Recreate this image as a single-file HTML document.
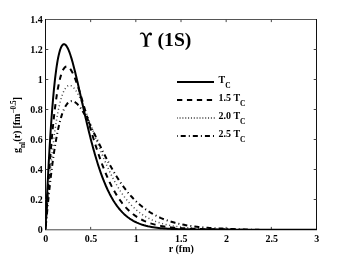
<!DOCTYPE html>
<html><head><meta charset="utf-8"><style>
html,body{margin:0;padding:0;background:#fff;}
svg{display:block;filter:grayscale(1);font-family:"Liberation Serif",serif;font-weight:bold;font-size:10px;fill:#000;}
</style></head><body>
<svg width="349" height="259" viewBox="0 0 349 259">
<rect width="349" height="259" fill="#fff"/>
<path d="M45 19.5H317" fill="none" stroke="#555"/><path d="M45 229.8H317" fill="none" stroke="#484848"/><path d="M45.5 19V230M316.5 19V230" fill="none" stroke="#111"/>
<g fill="none" stroke="#444" stroke-width="1"><path d="M90.67 229.5v-2.6M90.67 19.5v2.6"/><path d="M135.83 229.5v-2.6M135.83 19.5v2.6"/><path d="M181.00 229.5v-2.6M181.00 19.5v2.6"/><path d="M226.17 229.5v-2.6M226.17 19.5v2.6"/><path d="M271.33 229.5v-2.6M271.33 19.5v2.6"/><path d="M45.5 199.50h2.8M316.5 199.50h-2.8"/><path d="M45.5 169.50h2.8M316.5 169.50h-2.8"/><path d="M45.5 139.50h2.8M316.5 139.50h-2.8"/><path d="M45.5 109.50h2.8M316.5 109.50h-2.8"/><path d="M45.5 79.50h2.8M316.5 79.50h-2.8"/><path d="M45.5 49.50h2.8M316.5 49.50h-2.8"/></g>
<clipPath id="c"><rect x="45.5" y="19.5" width="271" height="210.5"/></clipPath>
<g fill="none" stroke="#000" stroke-linejoin="round" clip-path="url(#c)">
<path d="M45.50 229.50 L45.95 223.31 L46.40 217.24 L46.85 211.31 L47.31 205.52 L47.76 199.87 L48.21 194.38 L48.66 189.04 L49.11 183.85 L49.56 178.81 L50.02 173.93 L50.47 169.20 L50.92 164.63 L51.37 160.21 L51.82 155.94 L52.27 151.82 L52.73 147.84 L53.18 144.02 L53.63 140.34 L54.08 136.80 L54.53 133.41 L54.98 130.15 L55.44 127.03 L55.89 124.05 L56.34 121.20 L56.79 118.47 L57.24 115.88 L57.69 113.41 L58.15 111.07 L58.60 108.85 L59.05 106.74 L59.50 104.75 L59.95 102.88 L60.40 101.11 L60.86 99.46 L61.31 97.91 L61.76 96.46 L62.21 95.12 L62.66 93.87 L63.11 92.72 L63.57 91.66 L64.02 90.70 L64.47 89.82 L64.92 89.03 L65.37 88.33 L65.82 87.70 L66.28 87.16 L66.73 86.69 L67.18 86.30 L67.63 85.98 L68.08 85.73 L68.53 85.55 L68.99 85.44 L69.44 85.39 L69.89 85.40 L70.34 85.48 L70.79 85.61 L71.24 85.79 L71.70 86.04 L72.15 86.33 L72.60 86.67 L73.05 87.07 L73.50 87.51 L73.95 87.99 L74.41 88.52 L74.86 89.09 L75.31 89.70 L75.76 90.35 L76.21 91.03 L76.66 91.75 L77.12 92.51 L77.57 93.29 L78.02 94.11 L78.47 94.96 L78.92 95.83 L79.37 96.73 L79.83 97.66 L80.28 98.61 L80.73 99.58 L81.18 100.58 L81.63 101.59 L82.08 102.62 L82.54 103.68 L82.99 104.74 L83.44 105.83 L83.89 106.93 L84.34 108.04 L84.79 109.17 L85.25 110.30 L85.70 111.45 L86.15 112.61 L86.60 113.78 L87.05 114.95 L87.50 116.13 L87.96 117.32 L88.41 118.52 L88.86 119.72 L89.31 120.92 L89.76 122.13 L90.21 123.34 L90.67 124.55 L91.12 125.77 L91.57 126.98 L92.02 128.20 L92.47 129.42 L92.92 130.63 L93.38 131.84 L93.83 133.06 L94.28 134.27 L94.73 135.47 L95.18 136.68 L95.63 137.88 L96.09 139.07 L96.54 140.26 L96.99 141.45 L97.44 142.63 L97.89 143.81 L98.34 144.98 L98.80 146.14 L99.25 147.30 L99.70 148.45 L100.60 150.73 L102.42 155.21 L104.23 159.55 L106.05 163.75 L107.86 167.78 L109.67 171.66 L111.49 175.36 L113.30 178.90 L115.12 182.26 L116.93 185.46 L118.75 188.48 L120.56 191.34 L122.37 194.04 L124.19 196.58 L126.00 198.97 L127.82 201.21 L129.63 203.31 L131.45 205.27 L133.26 207.11 L135.07 208.82 L136.89 210.42 L138.70 211.90 L140.52 213.28 L142.33 214.56 L144.15 215.74 L145.96 216.84 L147.77 217.86 L149.59 218.80 L151.40 219.67 L153.22 220.47 L155.03 221.21 L156.84 221.89 L158.66 222.51 L160.47 223.09 L162.29 223.62 L164.10 224.10 L165.92 224.55 L167.73 224.96 L169.54 225.34 L171.36 225.68 L173.17 226.00 L174.99 226.29 L176.80 226.55 L178.62 226.79 L180.43 227.01 L182.24 227.22 L184.06 227.40 L185.87 227.57 L187.69 227.73 L189.50 227.87 L191.32 228.00 L193.13 228.12 L194.94 228.23 L196.76 228.33 L198.57 228.42 L200.39 228.50 L202.20 228.58 L204.02 228.65 L205.83 228.72 L207.64 228.77 L209.46 228.83 L211.27 228.88 L213.09 228.92 L214.90 228.97 L216.72 229.01 L218.53 229.04 L220.34 229.08 L222.16 229.12 L223.97 229.17 L225.79 229.21 L227.60 229.26 L229.41 229.30 L231.23 229.35 L233.04 229.40 L234.86 229.45 L236.67 229.49 L238.49 229.54 L240.30 229.59 L242.11 229.63 L243.93 229.68 L245.74 229.72 L247.56 229.76 L249.37 229.80 L251.19 229.83 L253.00 229.86 L254.81 229.89 L256.63 229.91 L258.44 229.93 L260.26 229.95 L262.07 229.96 L263.89 229.96 L265.70 229.97 L267.51 229.97 L269.33 229.98 L271.14 229.98 L272.96 229.98 L274.77 229.99 L276.59 229.99 L278.40 230.00 L280.21 230.00 L282.03 230.00 L283.84 230.00 L285.66 230.01 L287.47 230.01 L289.29 230.01 L291.10 230.01 L292.91 230.01 L294.73 230.02 L296.54 230.02 L298.36 230.02 L300.17 230.02 L301.98 230.02 L303.80 230.02 L305.61 230.03 L307.43 230.03 L309.24 230.03 L311.06 230.03 L312.87 230.03 L314.68 230.03 L316.50 230.03" stroke-width="1.5" stroke-dasharray="1.05 2.6" stroke="#4a4a4a"/>
<path d="M45.50 229.50 L45.95 224.49 L46.40 219.56 L46.85 214.72 L47.31 209.98 L47.76 205.35 L48.21 200.82 L48.66 196.40 L49.11 192.08 L49.56 187.89 L50.02 183.80 L50.47 179.83 L50.92 175.97 L51.37 172.22 L51.82 168.59 L52.27 165.07 L52.73 161.66 L53.18 158.36 L53.63 155.18 L54.08 152.10 L54.53 149.13 L54.98 146.27 L55.44 143.51 L55.89 140.86 L56.34 138.31 L56.79 135.86 L57.24 133.51 L57.69 131.26 L58.15 129.11 L58.60 127.05 L59.05 125.09 L59.50 123.21 L59.95 121.43 L60.40 119.74 L60.86 118.13 L61.31 116.61 L61.76 115.17 L62.21 113.81 L62.66 112.54 L63.11 111.34 L63.57 110.21 L64.02 109.16 L64.47 108.19 L64.92 107.28 L65.37 106.45 L65.82 105.68 L66.28 104.98 L66.73 104.34 L67.18 103.77 L67.63 103.25 L68.08 102.80 L68.53 102.40 L68.99 102.06 L69.44 101.78 L69.89 101.55 L70.34 101.37 L70.79 101.23 L71.24 101.15 L71.70 101.12 L72.15 101.13 L72.60 101.18 L73.05 101.28 L73.50 101.42 L73.95 101.60 L74.41 101.81 L74.86 102.07 L75.31 102.36 L75.76 102.69 L76.21 103.04 L76.66 103.44 L77.12 103.86 L77.57 104.31 L78.02 104.79 L78.47 105.30 L78.92 105.84 L79.37 106.40 L79.83 106.99 L80.28 107.60 L80.73 108.23 L81.18 108.89 L81.63 109.56 L82.08 110.26 L82.54 110.97 L82.99 111.70 L83.44 112.45 L83.89 113.21 L84.34 113.99 L84.79 114.79 L85.25 115.59 L85.70 116.41 L86.15 117.25 L86.60 118.09 L87.05 118.95 L87.50 119.81 L87.96 120.68 L88.41 121.57 L88.86 122.46 L89.31 123.36 L89.76 124.26 L90.21 125.17 L90.67 126.09 L91.12 127.01 L91.57 127.94 L92.02 128.87 L92.47 129.81 L92.92 130.75 L93.38 131.69 L93.83 132.63 L94.28 133.58 L94.73 134.52 L95.18 135.47 L95.63 136.42 L96.09 137.37 L96.54 138.32 L96.99 139.26 L97.44 140.21 L97.89 141.16 L98.34 142.10 L98.80 143.04 L99.25 143.98 L99.70 144.92 L100.60 146.79 L102.42 150.50 L104.23 154.14 L106.05 157.71 L107.86 161.19 L109.67 164.57 L111.49 167.85 L113.30 171.03 L115.12 174.09 L116.93 177.04 L118.75 179.87 L120.56 182.59 L122.37 185.19 L124.19 187.68 L126.00 190.06 L127.82 192.33 L129.63 194.48 L131.45 196.54 L133.26 198.49 L135.07 200.34 L136.89 202.10 L138.70 203.77 L140.52 205.34 L142.33 206.83 L144.15 208.24 L145.96 209.57 L147.77 210.83 L149.59 212.01 L151.40 213.13 L153.22 214.18 L155.03 215.17 L156.84 216.11 L158.66 216.98 L160.47 217.81 L162.29 218.58 L164.10 219.31 L165.92 219.99 L167.73 220.63 L169.54 221.23 L171.36 221.79 L173.17 222.32 L174.99 222.81 L176.80 223.27 L178.62 223.70 L180.43 224.11 L182.24 224.48 L184.06 224.84 L185.87 225.17 L187.69 225.47 L189.50 225.76 L191.32 226.03 L193.13 226.28 L194.94 226.51 L196.76 226.73 L198.57 226.93 L200.39 227.12 L202.20 227.30 L204.02 227.46 L205.83 227.61 L207.64 227.75 L209.46 227.88 L211.27 228.01 L213.09 228.12 L214.90 228.22 L216.72 228.32 L218.53 228.41 L220.34 228.50 L222.16 228.59 L223.97 228.68 L225.79 228.77 L227.60 228.85 L229.41 228.93 L231.23 229.01 L233.04 229.09 L234.86 229.16 L236.67 229.24 L238.49 229.31 L240.30 229.38 L242.11 229.44 L243.93 229.50 L245.74 229.56 L247.56 229.62 L249.37 229.67 L251.19 229.72 L253.00 229.76 L254.81 229.80 L256.63 229.83 L258.44 229.86 L260.26 229.88 L262.07 229.90 L263.89 229.91 L265.70 229.92 L267.51 229.93 L269.33 229.94 L271.14 229.95 L272.96 229.96 L274.77 229.96 L276.59 229.97 L278.40 229.98 L280.21 229.98 L282.03 229.99 L283.84 229.99 L285.66 230.00 L287.47 230.00 L289.29 230.00 L291.10 230.01 L292.91 230.01 L294.73 230.01 L296.54 230.02 L298.36 230.02 L300.17 230.02 L301.98 230.02 L303.80 230.02 L305.61 230.02 L307.43 230.03 L309.24 230.03 L311.06 230.03 L312.87 230.03 L314.68 230.03 L316.50 230.03" stroke-width="2" stroke-dasharray="5 3.07 1 3.08" stroke-dashoffset="8.9"/>
<path d="M45.50 229.50 L45.95 221.70 L46.40 214.06 L46.85 206.61 L47.31 199.36 L47.76 192.30 L48.21 185.46 L48.66 178.83 L49.11 172.41 L49.56 166.21 L50.02 160.22 L50.47 154.45 L50.92 148.89 L51.37 143.54 L51.82 138.41 L52.27 133.48 L52.73 128.77 L53.18 124.25 L53.63 119.94 L54.08 115.83 L54.53 111.91 L54.98 108.19 L55.44 104.65 L55.89 101.30 L56.34 98.14 L56.79 95.14 L57.24 92.33 L57.69 89.68 L58.15 87.20 L58.60 84.88 L59.05 82.73 L59.50 80.72 L59.95 78.87 L60.40 77.16 L60.86 75.60 L61.31 74.17 L61.76 72.88 L62.21 71.72 L62.66 70.69 L63.11 69.78 L63.57 68.99 L64.02 68.32 L64.47 67.76 L64.92 67.30 L65.37 66.96 L65.82 66.71 L66.28 66.56 L66.73 66.50 L67.18 66.54 L67.63 66.66 L68.08 66.87 L68.53 67.15 L68.99 67.52 L69.44 67.96 L69.89 68.47 L70.34 69.05 L70.79 69.69 L71.24 70.40 L71.70 71.16 L72.15 71.99 L72.60 72.87 L73.05 73.80 L73.50 74.78 L73.95 75.80 L74.41 76.87 L74.86 77.99 L75.31 79.14 L75.76 80.33 L76.21 81.56 L76.66 82.81 L77.12 84.10 L77.57 85.42 L78.02 86.77 L78.47 88.14 L78.92 89.53 L79.37 90.95 L79.83 92.38 L80.28 93.84 L80.73 95.31 L81.18 96.80 L81.63 98.30 L82.08 99.81 L82.54 101.33 L82.99 102.86 L83.44 104.40 L83.89 105.95 L84.34 107.50 L84.79 109.06 L85.25 110.62 L85.70 112.18 L86.15 113.75 L86.60 115.31 L87.05 116.87 L87.50 118.44 L87.96 120.00 L88.41 121.55 L88.86 123.10 L89.31 124.65 L89.76 126.19 L90.21 127.73 L90.67 129.26 L91.12 130.78 L91.57 132.29 L92.02 133.79 L92.47 135.29 L92.92 136.77 L93.38 138.25 L93.83 139.71 L94.28 141.16 L94.73 142.60 L95.18 144.03 L95.63 145.45 L96.09 146.85 L96.54 148.24 L96.99 149.62 L97.44 150.98 L97.89 152.33 L98.34 153.67 L98.80 154.99 L99.25 156.29 L99.70 157.59 L100.60 160.13 L102.42 165.04 L104.23 169.72 L106.05 174.14 L107.86 178.31 L109.67 182.23 L111.49 185.91 L113.30 189.36 L115.12 192.58 L116.93 195.57 L118.75 198.36 L120.56 200.95 L122.37 203.35 L124.19 205.56 L126.00 207.61 L127.82 209.50 L129.63 211.24 L131.45 212.84 L133.26 214.31 L135.07 215.65 L136.89 216.89 L138.70 218.02 L140.52 219.05 L142.33 220.00 L144.15 220.86 L145.96 221.65 L147.77 222.36 L149.59 223.02 L151.40 223.61 L153.22 224.15 L155.03 224.65 L156.84 225.09 L158.66 225.50 L160.47 225.87 L162.29 226.21 L164.10 226.51 L165.92 226.79 L167.73 227.04 L169.54 227.27 L171.36 227.47 L173.17 227.66 L174.99 227.83 L176.80 227.99 L178.62 228.13 L180.43 228.25 L182.24 228.37 L184.06 228.47 L185.87 228.57 L187.69 228.65 L189.50 228.73 L191.32 228.80 L193.13 228.87 L194.94 228.92 L196.76 228.98 L198.57 229.03 L200.39 229.07 L202.20 229.11 L204.02 229.15 L205.83 229.18 L207.64 229.21 L209.46 229.23 L211.27 229.26 L213.09 229.28 L214.90 229.30 L216.72 229.32 L218.53 229.34 L220.34 229.36 L222.16 229.38 L223.97 229.41 L225.79 229.44 L227.60 229.47 L229.41 229.51 L231.23 229.54 L233.04 229.58 L234.86 229.62 L236.67 229.65 L238.49 229.69 L240.30 229.73 L242.11 229.77 L243.93 229.80 L245.74 229.84 L247.56 229.87 L249.37 229.90 L251.19 229.93 L253.00 229.96 L254.81 229.98 L256.63 230.00 L258.44 230.01 L260.26 230.02 L262.07 230.03 L263.89 230.03 L265.70 230.03 L267.51 230.03 L269.33 230.03 L271.14 230.03 L272.96 230.03 L274.77 230.03 L276.59 230.03 L278.40 230.03 L280.21 230.03 L282.03 230.04 L283.84 230.04 L285.66 230.04 L287.47 230.04 L289.29 230.04 L291.10 230.04 L292.91 230.04 L294.73 230.04 L296.54 230.04 L298.36 230.04 L300.17 230.04 L301.98 230.04 L303.80 230.04 L305.61 230.04 L307.43 230.04 L309.24 230.04 L311.06 230.04 L312.87 230.04 L314.68 230.04 L316.50 230.04" stroke-width="2" stroke-dasharray="5.3 4.7" stroke-dashoffset="9.5"/>
<path d="M45.50 229.50 L45.95 219.33 L46.40 209.39 L46.85 199.73 L47.31 190.36 L47.76 181.29 L48.21 172.54 L48.66 164.12 L49.11 156.02 L49.56 148.25 L50.02 140.80 L50.47 133.68 L50.92 126.88 L51.37 120.41 L51.82 114.24 L52.27 108.39 L52.73 102.84 L53.18 97.59 L53.63 92.63 L54.08 87.97 L54.53 83.58 L54.98 79.47 L55.44 75.62 L55.89 72.04 L56.34 68.71 L56.79 65.63 L57.24 62.78 L57.69 60.17 L58.15 57.79 L58.60 55.62 L59.05 53.67 L59.50 51.92 L59.95 50.37 L60.40 49.01 L60.86 47.83 L61.31 46.83 L61.76 46.00 L62.21 45.34 L62.66 44.83 L63.11 44.48 L63.57 44.27 L64.02 44.20 L64.47 44.26 L64.92 44.45 L65.37 44.77 L65.82 45.20 L66.28 45.74 L66.73 46.39 L67.18 47.14 L67.63 47.98 L68.08 48.92 L68.53 49.94 L68.99 51.04 L69.44 52.22 L69.89 53.48 L70.34 54.80 L70.79 56.19 L71.24 57.63 L71.70 59.14 L72.15 60.70 L72.60 62.30 L73.05 63.96 L73.50 65.65 L73.95 67.39 L74.41 69.16 L74.86 70.96 L75.31 72.80 L75.76 74.66 L76.21 76.55 L76.66 78.46 L77.12 80.39 L77.57 82.33 L78.02 84.30 L78.47 86.27 L78.92 88.26 L79.37 90.25 L79.83 92.25 L80.28 94.26 L80.73 96.27 L81.18 98.28 L81.63 100.29 L82.08 102.30 L82.54 104.31 L82.99 106.31 L83.44 108.31 L83.89 110.30 L84.34 112.28 L84.79 114.25 L85.25 116.21 L85.70 118.17 L86.15 120.10 L86.60 122.03 L87.05 123.94 L87.50 125.84 L87.96 127.72 L88.41 129.58 L88.86 131.43 L89.31 133.26 L89.76 135.07 L90.21 136.86 L90.67 138.64 L91.12 140.39 L91.57 142.13 L92.02 143.84 L92.47 145.54 L92.92 147.21 L93.38 148.86 L93.83 150.49 L94.28 152.10 L94.73 153.69 L95.18 155.26 L95.63 156.80 L96.09 158.32 L96.54 159.82 L96.99 161.30 L97.44 162.75 L97.89 164.18 L98.34 165.59 L98.80 166.98 L99.25 168.34 L99.70 169.69 L100.60 172.31 L102.42 177.30 L104.23 181.95 L106.05 186.26 L107.86 190.25 L109.67 193.93 L111.49 197.32 L113.30 200.43 L115.12 203.28 L116.93 205.88 L118.75 208.25 L120.56 210.41 L122.37 212.38 L124.19 214.16 L126.00 215.77 L127.82 217.23 L129.63 218.55 L131.45 219.73 L133.26 220.80 L135.07 221.76 L136.89 222.62 L138.70 223.39 L140.52 224.08 L142.33 224.70 L144.15 225.25 L145.96 225.74 L147.77 226.18 L149.59 226.57 L151.40 226.91 L153.22 227.22 L155.03 227.49 L156.84 227.73 L158.66 227.95 L160.47 228.14 L162.29 228.30 L164.10 228.45 L165.92 228.58 L167.73 228.70 L169.54 228.80 L171.36 228.89 L173.17 228.96 L174.99 229.03 L176.80 229.09 L178.62 229.14 L180.43 229.19 L182.24 229.23 L184.06 229.26 L185.87 229.30 L187.69 229.32 L189.50 229.35 L191.32 229.37 L193.13 229.38 L194.94 229.40 L196.76 229.41 L198.57 229.42 L200.39 229.43 L202.20 229.44 L204.02 229.45 L205.83 229.46 L207.64 229.46 L209.46 229.47 L211.27 229.47 L213.09 229.48 L214.90 229.48 L216.72 229.48 L218.53 229.49 L220.34 229.49 L222.16 229.50 L223.97 229.51 L225.79 229.52 L227.60 229.54 L229.41 229.55 L231.23 229.57 L233.04 229.59 L234.86 229.61 L236.67 229.63 L238.49 229.65 L240.30 229.67 L242.11 229.69 L243.93 229.71 L245.74 229.73 L247.56 229.75 L249.37 229.76 L251.19 229.78 L253.00 229.79 L254.81 229.81 L256.63 229.82 L258.44 229.82 L260.26 229.83 L262.07 229.83 L263.89 229.83 L265.70 229.83 L267.51 229.83 L269.33 229.83 L271.14 229.83 L272.96 229.83 L274.77 229.83 L276.59 229.83 L278.40 229.83 L280.21 229.83 L282.03 229.83 L283.84 229.83 L285.66 229.83 L287.47 229.83 L289.29 229.83 L291.10 229.83 L292.91 229.83 L294.73 229.83 L296.54 229.83 L298.36 229.83 L300.17 229.83 L301.98 229.83 L303.80 229.83 L305.61 229.83 L307.43 229.83 L309.24 229.83 L311.06 229.83 L312.87 229.83 L314.68 229.83 L316.50 229.83" stroke-width="2"/>
</g>
<g><text x="45.80" y="241.6" text-anchor="middle">0</text><text x="90.97" y="241.6" text-anchor="middle">0.5</text><text x="136.13" y="241.6" text-anchor="middle">1</text><text x="181.30" y="241.6" text-anchor="middle">1.5</text><text x="226.47" y="241.6" text-anchor="middle">2</text><text x="271.63" y="241.6" text-anchor="middle">2.5</text><text x="316.80" y="241.6" text-anchor="middle">3</text><text x="42.8" y="233.30" text-anchor="end">0</text><text x="42.8" y="203.30" text-anchor="end">0.2</text><text x="42.8" y="173.30" text-anchor="end">0.4</text><text x="42.8" y="143.30" text-anchor="end">0.6</text><text x="42.8" y="113.30" text-anchor="end">0.8</text><text x="42.8" y="83.30" text-anchor="end">1</text><text x="42.8" y="53.30" text-anchor="end">1.2</text><text x="42.8" y="23.30" text-anchor="end">1.4</text></g>
<g fill="none" stroke="#000"><path d="M177 82.0H214" stroke-width="2"/><path d="M177 100.0H214" stroke-width="2" stroke-dasharray="5.3 4.63"/><path d="M177 118.0H214.9" stroke-width="2" stroke-dasharray="1 1.85" stroke="#666" stroke-dashoffset="0.3"/><path d="M177 136.0H214" stroke-width="2" stroke-dasharray="5 3.05 1 3.05" stroke-dashoffset="8.37"/></g>
<g><text x="218.6" y="83.2">T<tspan font-size="7.5" dy="5">C</tspan></text><text x="218.6" y="101.2">1.5 T<tspan font-size="7.5" dy="5">C</tspan></text><text x="218.6" y="119.2">2.0 T<tspan font-size="7.5" dy="5">C</tspan></text><text x="218.6" y="137.2">2.5 T<tspan font-size="7.5" dy="5">C</tspan></text></g>
<g transform="translate(135 28) scale(0.07734)"><path d="M100 243L185 243L185 236C170 234 160 230 160 215L160 150C160 118 168 92 186 84C190 97 208 100 217 89C227 75 216 57 200 57C172 57 150 92 143 125C140 100 130 63 100 58C84 56 67 60 61 80L67 87C71 78 78 73 90 73C108 74 122 100 125 150L125 215C125 230 115 234 100 236Z"/></g>
<text x="157.5" y="46.4" font-size="19.7">(1S)</text>
<text x="181.3" y="252" text-anchor="middle">r (fm)</text>
<text transform="translate(19.8 153.1) rotate(-90)">g<tspan font-size="7.5" dy="5.5">nl</tspan><tspan dy="-5.5" dx="0.2">(r)</tspan><tspan dx="-0.5"> [fm</tspan><tspan font-size="7.3" dy="-3.7">&#8722;0.5</tspan><tspan dy="3.7">]</tspan></text>
</svg>
</body></html>
